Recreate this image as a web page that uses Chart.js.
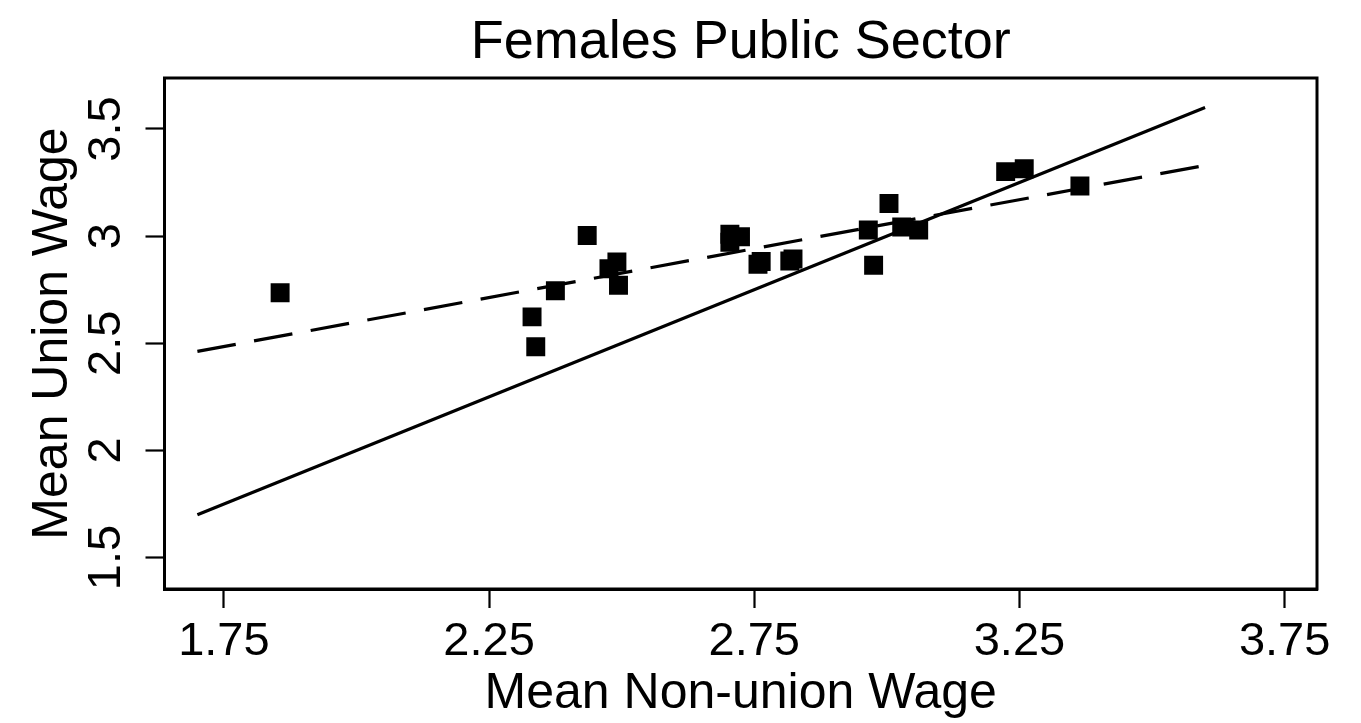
<!DOCTYPE html>
<html>
<head>
<meta charset="utf-8">
<title>Females Public Sector</title>
<script src="https://cdn.jsdelivr.net/npm/chart.js@4.4.1/dist/chart.umd.min.js"></script>
<style>
  html, body { margin: 0; padding: 0; background: #fff; }
  canvas { display: block; }
</style>
</head>
<body>
<canvas id="chart" width="1361" height="723"></canvas>
<script>
// ---------- data ----------
const nonUnionWage = [1.856, 2.331, 2.338, 2.375, 2.435, 2.476, 2.491, 2.494, 2.704, 2.704, 2.724, 2.757,
  2.763, 2.817, 2.823, 2.965, 3.004, 2.975, 3.028, 3.060, 3.224, 3.259, 3.364];
const unionWage = [2.736, 2.623, 2.484, 2.745, 3.003, 2.848, 2.879, 2.771, 3.009, 2.971, 2.997, 2.869,
  2.882, 2.884, 2.893, 3.029, 3.152, 2.864, 3.043, 3.029, 3.301, 3.314, 3.234];

// 45 degree line (solid) and fitted line (dashed)
const lineX = [1.70, 3.60];
const equalLineY = [1.70, 3.60];
const fitLineY = [2.462, 3.330];

const xTicks = [1.75, 2.25, 2.75, 3.25, 3.75];
const yTicks = [1.5, 2, 2.5, 3, 3.5];
const xTickLabels = ['1.75', '2.25', '2.75', '3.25', '3.75'];
const yTickLabels = ['1.5', '2', '2.5', '3', '3.5'];

const TITLE = 'Females Public Sector';
const X_TITLE = 'Mean Non-union Wage';
const Y_TITLE = 'Mean Union Wage';

// ---------- helpers ----------
const FONT = '"Liberation Sans", Arial, Helvetica, sans-serif';
const pts = nonUnionWage.map((x, i) => ({ x, y: unionWage[i] }));
const line = (ys) => lineX.map((x, i) => ({ x, y: ys[i] }));

const textPlugin = {
  id: 'stataText',
  afterDraw(chart) {
    const { ctx, chartArea: a, scales: { x, y } } = chart;
    ctx.save();
    // frame
    ctx.strokeStyle = '#000';
    ctx.lineWidth = 3;
    ctx.strokeRect(a.left, a.top, a.right - a.left, a.bottom - a.top);

    ctx.fillStyle = '#000';
    // x tick labels
    ctx.font = '47px ' + FONT;
    ctx.textAlign = 'center';
    ctx.textBaseline = 'alphabetic';
    xTicks.forEach((v, i) => ctx.fillText(xTickLabels[i], x.getPixelForValue(v), 655));
    // y tick labels (rotated)
    yTicks.forEach((v, i) => {
      ctx.save();
      ctx.translate(120, y.getPixelForValue(v));
      ctx.rotate(-Math.PI / 2);
      ctx.fillText(yTickLabels[i], 0, 0);
      ctx.restore();
    });
    // axis titles
    ctx.font = '50px ' + FONT;
    ctx.fillText(X_TITLE, (a.left + a.right) / 2, 708);
    ctx.save();
    ctx.translate(67, (a.top + a.bottom) / 2);
    ctx.rotate(-Math.PI / 2);
    ctx.fillText(Y_TITLE, 0, 0);
    ctx.restore();
    // title
    ctx.font = '54px ' + FONT;
    ctx.fillText(TITLE, (a.left + a.right) / 2, 58);
    ctx.restore();
  },
};

new Chart(document.getElementById('chart'), {
  type: 'scatter',
  data: {
    datasets: [
      { label: 'Union vs non-union', data: pts, pointStyle: 'rect', pointRadius: 13.4, pointHoverRadius: 13.4,
        backgroundColor: '#000', borderWidth: 0, order: 1 },
      { label: '45 degree', data: line(equalLineY), type: 'line', showLine: true, borderColor: '#000',
        borderWidth: 3.2, pointRadius: 0, fill: false, order: 2 },
      { label: 'Fit', data: line(fitLineY), type: 'line', showLine: true, borderColor: '#000',
        borderWidth: 3.2, borderDash: [39, 18.6], pointRadius: 0, fill: false, order: 3 },
    ],
  },
  options: {
    responsive: false, animation: false, devicePixelRatio: 1,
    layout: { padding: { top: 78, right: 44, left: 0, bottom: 0 } },
    plugins: { legend: { display: false }, tooltip: { enabled: false }, title: { display: false } },
    scales: {
      x: {
        type: 'linear', min: 1.638, max: 3.811,
        afterBuildTicks: (s) => { s.ticks = xTicks.map((v) => ({ value: v })); },
        afterFit: (s) => { s.height = 134; },
        ticks: { display: false },
        grid: { drawOnChartArea: false, drawTicks: true, tickLength: 19, tickWidth: 2.2, tickColor: '#000' },
        border: { display: true, color: '#000', width: 3 },
      },
      y: {
        type: 'linear', min: 1.353, max: 3.738,
        afterBuildTicks: (s) => { s.ticks = yTicks.map((v) => ({ value: v })); },
        afterFit: (s) => { s.width = 164.5; },
        ticks: { display: false },
        grid: { drawOnChartArea: false, drawTicks: true, tickLength: 19, tickWidth: 2.2, tickColor: '#000' },
        border: { display: true, color: '#000', width: 3 },
      },
    },
  },
  plugins: [textPlugin],
});
</script>
</body>
</html>
